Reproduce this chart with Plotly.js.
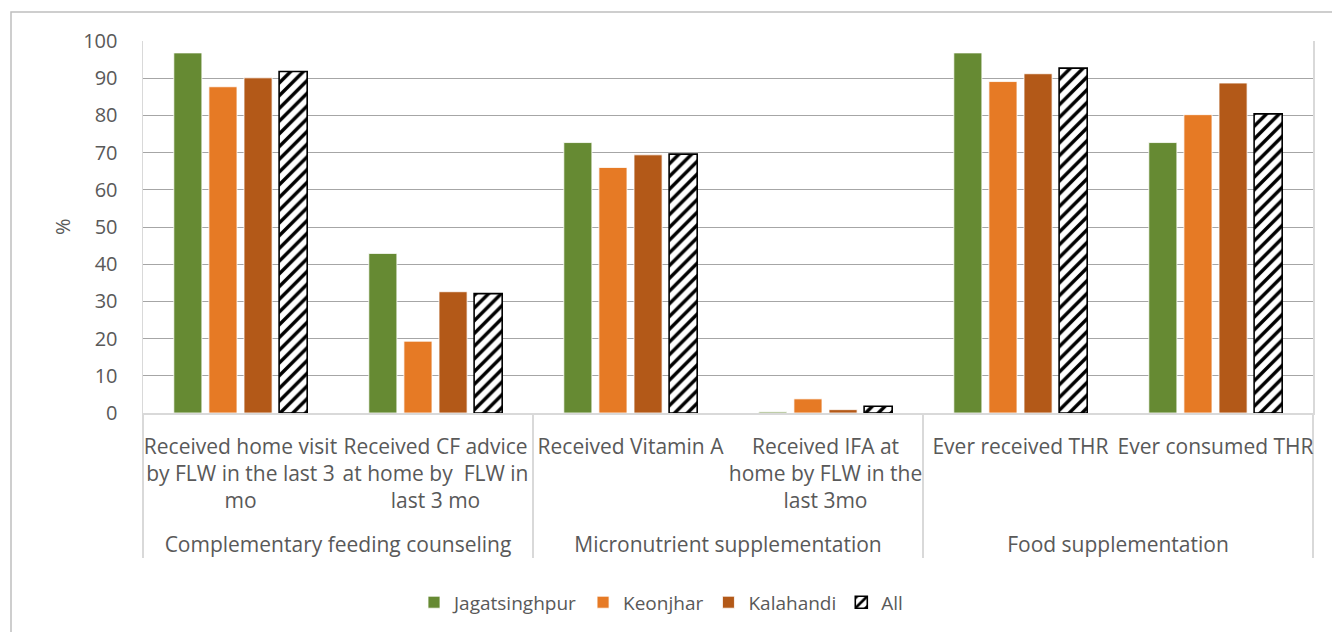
<!DOCTYPE html>
<html>
<head>
<meta charset="utf-8">
<script src="https://cdn.plot.ly/plotly-3.0.1.min.js"></script>
<style>html,body{margin:0;padding:0;background:#fff;}#chart{width:1332px;height:632px;}</style>
</head>
<body>
<div id="chart"></div>
<script>
const groups = [
  "Complementary feeding counseling", "Complementary feeding counseling",
  "Micronutrient supplementation", "Micronutrient supplementation",
  "Food supplementation", "Food supplementation"
];
const indicators = [
  "Received home visit<br>by FLW in the last 3<br>mo",
  "Received CF advice<br>at home by  FLW in<br>last 3 mo",
  "Received Vitamin A",
  "Received IFA at<br>home by FLW in the<br>last 3mo",
  "Ever received THR",
  "Ever consumed THR"
];
const seriesNames = ["Jagatsinghpur", "Keonjhar", "Kalahandi", "All"];
const jagatsinghpur = [96.8, 42.9, 72.7, 0.3, 96.8, 72.7];
const keonjhar      = [87.7, 19.3, 66.0, 3.8, 89.1, 80.2];
const kalahandi     = [90.1, 32.6, 69.4, 0.9, 91.2, 88.7];
const all           = [91.8, 32.1, 69.6, 1.8, 92.7, 80.4];
const colors = ["#668A33", "#E67A25", "#B35918"];

const x = [groups.map(g => "<br>" + g), indicators];
const values = [jagatsinghpur, keonjhar, kalahandi];
const traces = values.map((v, i) => ({
  type: "bar", name: seriesNames[i], x: x, y: v,
  marker: {color: colors[i], line: {color: "#ffffff", width: 0.8}},
  hoverinfo: "y"
}));
traces.push({
  type: "bar", name: seriesNames[3], x: x, y: all,
  marker: {color: "#ffffff", line: {color: "#000000", width: 1.6},
           pattern: {shape: "/", fgcolor: "#000000", bgcolor: "#ffffff", size: 9, solidity: 0.38}},
  hoverinfo: "y"
});

const textColor = "#595959";
const fontFamily = "'Open Sans', Lato, sans-serif";
const layout = {
  width: 1332, height: 632,
  margin: {l: 143, r: 19, t: 41, b: 218},
  paper_bgcolor: "#ffffff", plot_bgcolor: "#ffffff",
  font: {family: fontFamily, size: 19, color: textColor},
  barmode: "group", bargap: 0.28, bargroupgap: 0.2,
  showlegend: true,
  legend: {orientation: "h", x: (661 - 143) / 1170, xanchor: "center", y: -0.505, yanchor: "middle",
           font: {size: 19, color: textColor}, traceorder: "normal"},
  xaxis: {
    type: "multicategory",
    tickfont: {size: 21, color: textColor},
    tickangle: 0,
    showdividers: true, dividercolor: "#D9D9D9", dividerwidth: 1.5,
    showline: true, linecolor: "#D9D9D9", linewidth: 1.5,
    ticks: "", ticklabelstandoff: 14,
    showgrid: false, automargin: false
  },
  yaxis: {
    range: [0, 100], dtick: 10, tick0: 0,
    showgrid: true, gridcolor: "#A6A6A6", gridwidth: 1,
    zeroline: false,
    showline: true, mirror: true, linecolor: "#D9D9D9", linewidth: 1.5,
    ticks: "outside", ticklen: 20, tickcolor: "rgba(0,0,0,0)",
    tickfont: {size: 20, color: textColor},
    automargin: false
  },
  annotations: [{
    text: "%", xref: "paper", yref: "paper", x: 0, y: 0.5, xshift: -81,
    xanchor: "center", yanchor: "middle", textangle: -90, showarrow: false,
    font: {size: 20, color: textColor, family: fontFamily}
  }],
  shapes: [{
    type: "rect", xref: "paper", yref: "paper",
    x0: (11 - 143) / 1170, x1: (1345 - 143) / 1170,
    y0: (414 - 645) / 373, y1: (414 - 12) / 373,
    line: {color: "#BFBFBF", width: 1.5}, fillcolor: "rgba(0,0,0,0)", layer: "below"
  }]
};

Plotly.newPlot("chart", traces, layout, {displayModeBar: false, staticPlot: true});
</script>
</body>
</html>
